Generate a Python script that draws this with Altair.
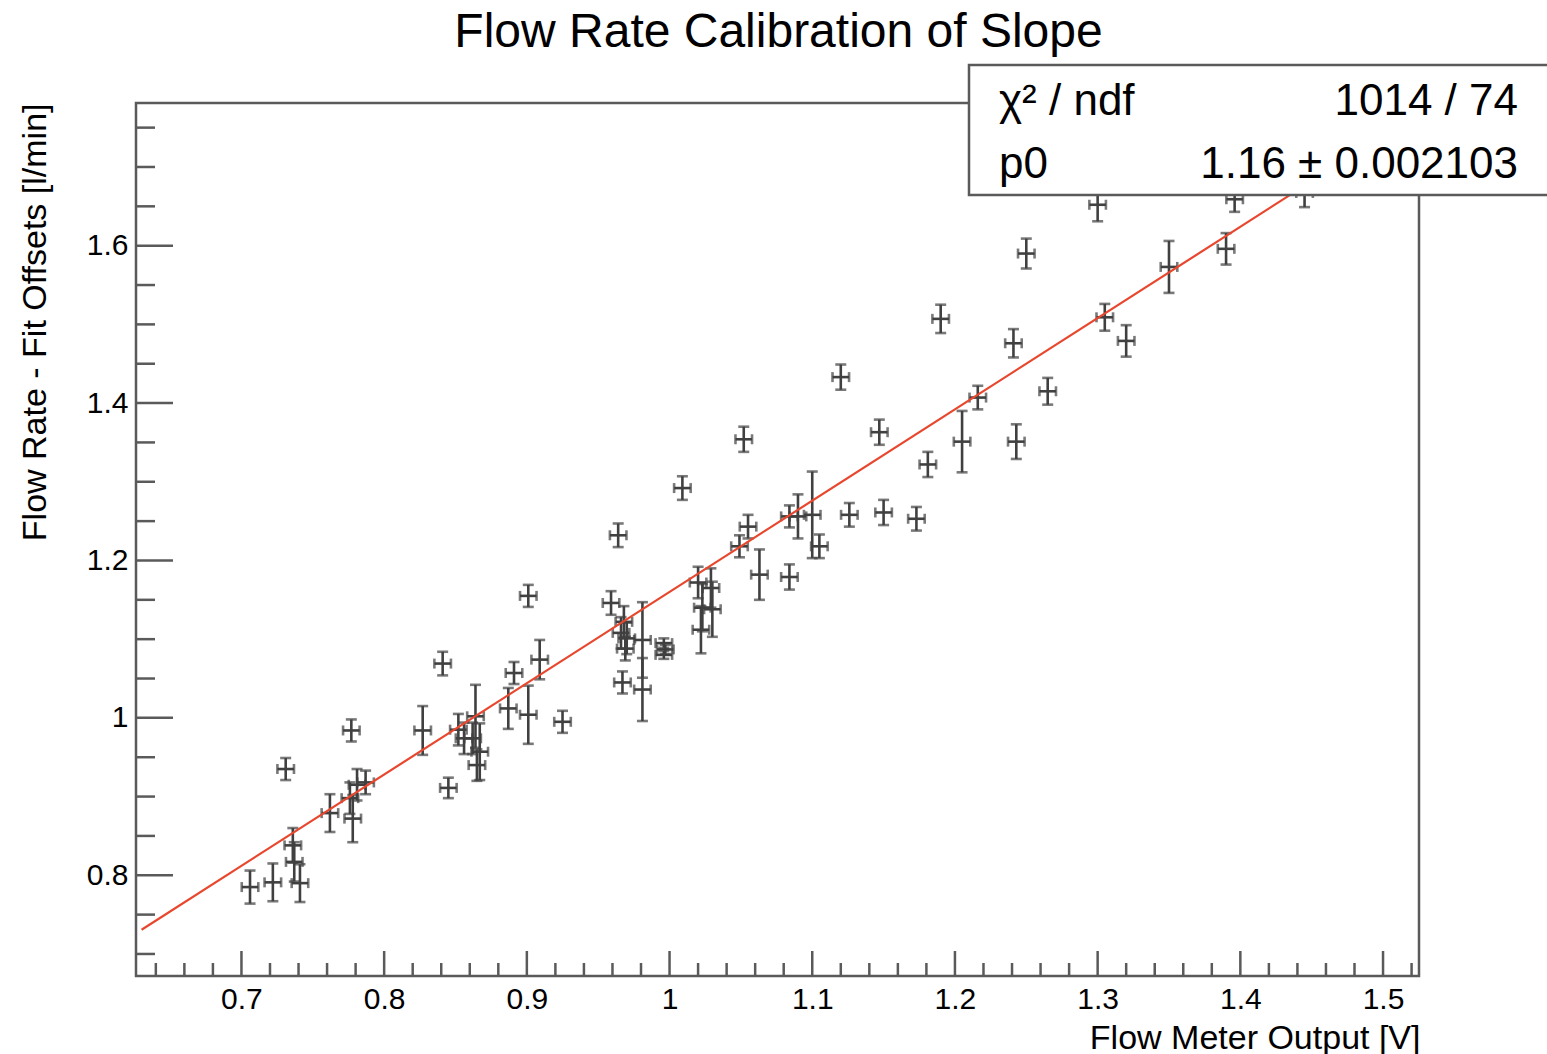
import altair as alt
import pandas as pd

# ---------------- data ----------------
x_vals = [0.706, 0.722, 0.731, 0.736, 0.737, 0.741, 0.762, 0.777, 0.776, 0.778,
          0.781, 0.787, 0.827, 0.841, 0.845, 0.852, 0.856, 0.862, 0.864, 0.867,
          0.865, 0.887, 0.891, 0.901, 0.909, 0.925, 0.901, 0.959, 0.964, 0.967,
          0.968, 0.966, 0.970, 0.969, 0.981, 0.981, 0.996, 0.997, 0.996, 1.009,
          1.020, 1.029, 1.023, 1.030, 1.022, 1.049, 1.052, 1.055, 1.063, 1.084,
          1.084, 1.090, 1.100, 1.105, 1.120, 1.126, 1.147, 1.150, 1.173, 1.181,
          1.190, 1.205, 1.216, 1.241, 1.243, 1.250, 1.265, 1.300, 1.305, 1.320,
          1.350, 1.390, 1.396, 1.445]
y_vals = [0.785, 0.791, 0.935, 0.838, 0.817, 0.790, 0.879, 0.984, 0.898, 0.872,
          0.915, 0.918, 0.984, 1.069, 0.911, 0.985, 0.974, 0.974, 1.002, 0.957,
          0.940, 1.012, 1.057, 1.004, 1.074, 0.995, 1.155, 1.146, 1.232, 1.045,
          1.122, 1.108, 1.101, 1.088, 1.099, 1.036, 1.095, 1.087, 1.080, 1.292,
          1.172, 1.165, 1.140, 1.138, 1.112, 1.218, 1.354, 1.243, 1.182, 1.179,
          1.256, 1.256, 1.258, 1.218, 1.433, 1.258, 1.363, 1.261, 1.253, 1.322,
          1.507, 1.351, 1.407, 1.476, 1.351, 1.590, 1.415, 1.652, 1.509, 1.479,
          1.573, 1.596, 1.659, 1.667]
y_err = [0.021, 0.024, 0.014, 0.022, 0.025, 0.024, 0.024, 0.014, 0.020, 0.030,
         0.020, 0.015, 0.031, 0.015, 0.013, 0.020, 0.020, 0.020, 0.040, 0.036,
         0.020, 0.026, 0.014, 0.037, 0.025, 0.014, 0.014, 0.015, 0.015, 0.014,
         0.020, 0.020, 0.020, 0.015, 0.048, 0.040, 0.006, 0.006, 0.005, 0.015,
         0.020, 0.025, 0.030, 0.035, 0.030, 0.014, 0.016, 0.015, 0.032, 0.016,
         0.014, 0.028, 0.055, 0.015, 0.016, 0.015, 0.016, 0.016, 0.015, 0.016,
         0.018, 0.039, 0.015, 0.018, 0.022, 0.019, 0.017, 0.021, 0.017, 0.020,
         0.033, 0.020, 0.016, 0.018]
X_ERR = 0.0058

# fit result
P0 = 1.16
fit_x = [0.63, 1.525]

# axis ticks / labels
x_major = [0.7, 0.8, 0.9, 1.0, 1.1, 1.2, 1.3, 1.4, 1.5]
x_minor = [0.64, 0.66, 0.68, 0.72, 0.74, 0.76, 0.78, 0.82, 0.84, 0.86, 0.88,
           0.92, 0.94, 0.96, 0.98, 1.02, 1.04, 1.06, 1.08, 1.12, 1.14, 1.16,
           1.18, 1.22, 1.24, 1.26, 1.28, 1.32, 1.34, 1.36, 1.38, 1.42, 1.44,
           1.46, 1.48, 1.52]
y_major = [0.8, 1.0, 1.2, 1.4, 1.6]
y_minor = [0.70, 0.75, 0.85, 0.90, 0.95, 1.05, 1.10, 1.15, 1.25, 1.30, 1.35,
           1.45, 1.50, 1.55, 1.65, 1.70, 1.75]

X_DOMAIN = [0.6261, 1.5252]
Y_DOMAIN = [0.672, 1.7813]

title_text = "Flow Rate Calibration of Slope"
x_title = "Flow Meter Output [V]"
y_title = "Flow Rate - Fit Offsets [l/min]"
stats_labels = ["\u03c7\u00b2 / ndf", "p0"]
stats_values = ["1014 / 74", "1.16 \u00b1 0.002103"]

# ---------------- layout constants ----------------
W, H = 1283, 873
FONT = "Liberation Sans"
INK = "#404040"
FRAME = "#5a5a5a"

pts = pd.DataFrame({"x": x_vals, "y": y_vals, "ey": y_err})
pts["ylo"] = pts["y"] - pts["ey"]
pts["yhi"] = pts["y"] + pts["ey"]
pts["xlo"] = pts["x"] - X_ERR
pts["xhi"] = pts["x"] + X_ERR

ycaps = pd.concat([pd.DataFrame({"x": pts["x"], "y": pts["ylo"]}),
                   pd.DataFrame({"x": pts["x"], "y": pts["yhi"]})])
xcaps = pd.concat([pd.DataFrame({"x": pts["xlo"], "y": pts["y"]}),
                   pd.DataFrame({"x": pts["xhi"], "y": pts["y"]})])
fit = pd.DataFrame({"x": fit_x, "y": [P0 * v for v in fit_x]})

xs = alt.Scale(domain=X_DOMAIN, nice=False, zero=False)
ys = alt.Scale(domain=Y_DOMAIN, nice=False, zero=False)

x_axis = alt.Axis(values=x_major, format="~g", grid=False, ticks=False, tickSize=0,
                  domain=False, labelFont=FONT, labelFontSize=30, labelColor="black",
                  labelPadding=8, labelBaseline="top", labelFlush=False,
                  title=x_title, titleFont=FONT, titleFontSize=34,
                  titleFontWeight="normal", titleColor="black",
                  titleAlign="right", titleAnchor="end", titleBaseline="alphabetic",
                  titleX=W + 1, titleY=72)
y_axis = alt.Axis(values=y_major, format="~g", grid=False, ticks=False, tickSize=0,
                  domain=False, labelFont=FONT, labelFontSize=30, labelColor="black",
                  labelPadding=8, labelFlush=False,
                  title=y_title, titleFont=FONT, titleFontSize=34,
                  titleFontWeight="normal", titleColor="black", titleAngle=270,
                  titleAlign="right", titleBaseline="alphabetic",
                  titleX=-91, titleY=0)


def X(field):
    return alt.X(field, scale=xs, axis=x_axis)


def Y(field):
    return alt.Y(field, scale=ys, axis=y_axis)


base = alt.Chart(pts)

ybars = base.mark_rule(color=INK, strokeWidth=2.6).encode(
    x=X("x:Q"), y=Y("ylo:Q"), y2="yhi:Q")
xbars = base.mark_rule(color=INK, strokeWidth=2.6).encode(
    x=X("xlo:Q"), x2="xhi:Q", y=Y("y:Q"))
ycap_m = alt.Chart(ycaps).mark_tick(color=INK, orient="horizontal", size=11,
                                    thickness=2.6).encode(x=X("x:Q"), y=Y("y:Q"))
xcap_m = alt.Chart(xcaps).mark_tick(color=INK, orient="vertical", size=10,
                                    thickness=2.6).encode(x=X("x:Q"), y=Y("y:Q"))
fit_line = alt.Chart(fit).mark_line(color="#e8472e", strokeWidth=2.2).encode(
    x=X("x:Q"), y=Y("y:Q"))


# inward ROOT-style ticks
def xticks(vals, length):
    return alt.Chart(pd.DataFrame({"x": vals})).mark_rule(
        color=FRAME, strokeWidth=2.5).encode(
        x=X("x:Q"), y=alt.value(H), y2=alt.value(H - length))


def yticks(vals, length):
    return alt.Chart(pd.DataFrame({"y": vals})).mark_rule(
        color=FRAME, strokeWidth=2.5).encode(
        y=Y("y:Q"), x=alt.value(0), x2=alt.value(length))


tick_layers = [xticks(x_major, 25), xticks(x_minor, 13),
               yticks(y_major, 37), yticks(y_minor, 19)]

# stats box and title text
BOX_L, BOX_T, BOX_R, BOX_B = 833, -38, 1425, 92
ROW_Y = [12, 75]
one = pd.DataFrame({"k": [0]})
box = alt.Chart(one).mark_rect(
    fill="white", stroke=FRAME, strokeWidth=2.5).encode(
    x=alt.value(BOX_L), x2=alt.value(BOX_R), y=alt.value(BOX_T), y2=alt.value(BOX_B))

text_layers = [alt.Chart(one).mark_text(
    font=FONT, fontSize=48, align="center", baseline="alphabetic", color="black",
    text=title_text).encode(x=alt.value(W / 2 + 1), y=alt.value(-56))]
for i in range(len(stats_labels)):
    text_layers.append(alt.Chart(one).mark_text(
        font=FONT, fontSize=44, align="left", baseline="alphabetic", color="black",
        text=stats_labels[i]).encode(x=alt.value(BOX_L + 30), y=alt.value(ROW_Y[i])))
    text_layers.append(alt.Chart(one).mark_text(
        font=FONT, fontSize=44, align="right", baseline="alphabetic", color="black",
        text=stats_values[i]).encode(x=alt.value(1382), y=alt.value(ROW_Y[i])))

chart = alt.layer(
    ybars, xbars, ycap_m, xcap_m, fit_line, *tick_layers, box, *text_layers
).properties(
    width=W, height=H,
    autosize=alt.AutoSizeParams(type="none"),
    padding={"left": 136, "top": 103, "right": 128, "bottom": 78},
    background="white",
).configure_view(stroke=FRAME, strokeWidth=2.5)

chart.save("out.html", embed_options={"renderer": "svg", "actions": False})
